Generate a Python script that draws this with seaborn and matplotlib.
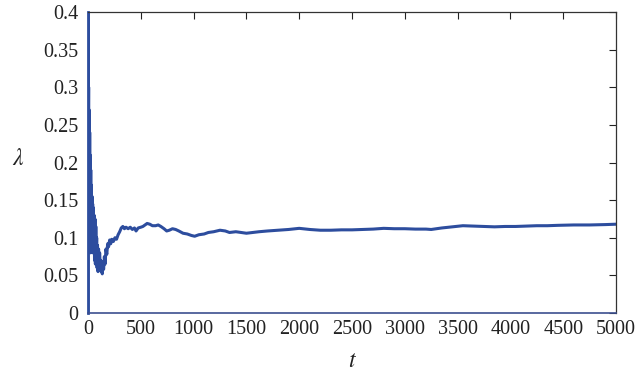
import matplotlib
matplotlib.use("Agg")
import matplotlib.pyplot as plt
import seaborn as sns
import pandas as pd

# ---- data ----
t_values = [0, 2, 4, 6, 8, 10, 12, 14, 16, 18, 20, 23, 26, 29, 32, 35, 38, 41, 44, 47,
            50, 54, 58, 62, 66, 70, 74, 78, 82, 86, 90, 95, 100, 105, 110, 115, 120, 125,
            130, 135, 140, 148, 155, 162, 170, 178, 186, 195, 205, 215, 225, 240, 255,
            270, 285, 300, 315, 330, 345, 360, 380, 400, 420, 440, 455, 475, 500, 520,
            540, 560, 585, 610, 640, 665, 690, 720, 745, 770, 800, 830, 860, 900, 940,
            980, 1010, 1050, 1100, 1140, 1190, 1250, 1300, 1340, 1400, 1450, 1500, 1560,
            1620, 1700, 1800, 1900, 2000, 2100, 2200, 2300, 2400, 2500, 2600, 2700, 2800,
            2900, 3000, 3100, 3200, 3250, 3350, 3450, 3550, 3650, 3750, 3850, 3950, 4050,
            4150, 4250, 4350, 4450, 4600, 4750, 4900, 5000]
lambda_values = [0.0, 0.40, 0.25, 0.30, 0.18, 0.27, 0.20, 0.085, 0.24, 0.09, 0.21, 0.08,
                 0.19, 0.085, 0.17, 0.09, 0.155, 0.08, 0.145, 0.095, 0.14, 0.08, 0.13,
                 0.07, 0.125, 0.065, 0.115, 0.075, 0.10, 0.06, 0.09, 0.055, 0.085, 0.06,
                 0.08, 0.065, 0.07, 0.055, 0.068, 0.052, 0.065, 0.058, 0.075, 0.065,
                 0.085, 0.078, 0.092, 0.088, 0.097, 0.092, 0.098, 0.095, 0.100, 0.098,
                 0.104, 0.108, 0.113, 0.115, 0.112, 0.114, 0.112, 0.114, 0.111, 0.113,
                 0.109, 0.113, 0.114, 0.115, 0.117, 0.119, 0.118, 0.116, 0.116, 0.117,
                 0.115, 0.112, 0.109, 0.110, 0.112, 0.111, 0.109, 0.106, 0.105, 0.103,
                 0.102, 0.104, 0.105, 0.107, 0.108, 0.110, 0.109, 0.107, 0.108, 0.107,
                 0.106, 0.107, 0.108, 0.109, 0.110, 0.111, 0.1125, 0.111, 0.110, 0.110,
                 0.1105, 0.1105, 0.111, 0.1115, 0.1125, 0.112, 0.112, 0.1115, 0.1115,
                 0.111, 0.113, 0.1145, 0.116, 0.1155, 0.115, 0.1145, 0.115, 0.115,
                 0.1155, 0.116, 0.116, 0.1165, 0.117, 0.117, 0.1175, 0.118]
x_ticks = [0, 500, 1000, 1500, 2000, 2500, 3000, 3500, 4000, 4500, 5000]
x_tick_labels = ["0", "500", "1000", "1500", "2000", "2500", "3000", "3500", "4000", "4500", "5000"]
y_ticks = [0, 0.05, 0.1, 0.15, 0.2, 0.25, 0.3, 0.35, 0.4]
y_tick_labels = ["0", "0.05", "0.1", "0.15", "0.2", "0.25", "0.3", "0.35", "0.4"]

df = pd.DataFrame({"t": t_values, "lam": lambda_values})

sns.set_theme(style="white")
plt.rcParams["font.family"] = ["Liberation Serif", "DejaVu Serif"]
plt.rcParams["mathtext.fontset"] = "stix"

fig = plt.figure(figsize=(6.35, 3.73), dpi=100)
ax = fig.add_axes([88 / 635, 60 / 373, 528 / 635, 301 / 373])

line_color = "#2d4d9e"
sns.lineplot(data=df, x="t", y="lam", ax=ax, color=line_color, linewidth=2.2,
             estimator=None, sort=False)

ax.set_xlim(0, 5000)
ax.set_ylim(0, 0.4)
ax.set_xticks(x_ticks)
ax.set_xticklabels(x_tick_labels)
ax.set_yticks(y_ticks)
ax.set_yticklabels(y_tick_labels)

ax.tick_params(axis="both", which="major", direction="in", length=5, width=0.8,
               color="#222222", labelsize=14.5, labelcolor="#222222",
               top=True, right=True)
ax.tick_params(axis="y", pad=7)
ax.tick_params(axis="x", pad=5)

for side in ["top", "right"]:
    ax.spines[side].set_color("#333333")
    ax.spines[side].set_linewidth(0.9)
ax.spines["bottom"].set_color("#3c4f8f")
ax.spines["bottom"].set_linewidth(1.2)
ax.spines["left"].set_color(line_color)
ax.spines["left"].set_linewidth(2.0)

ax.set_xlabel(r"$t$", fontsize=17, color="#222222")
ax.set_ylabel(r"$\lambda$", fontsize=17, color="#222222", rotation=0, va="center", ha="center")
ax.yaxis.set_label_coords(-0.133, 0.51)
ax.xaxis.set_label_coords(0.5, -0.125)

fig.savefig("out.png", dpi=100)
